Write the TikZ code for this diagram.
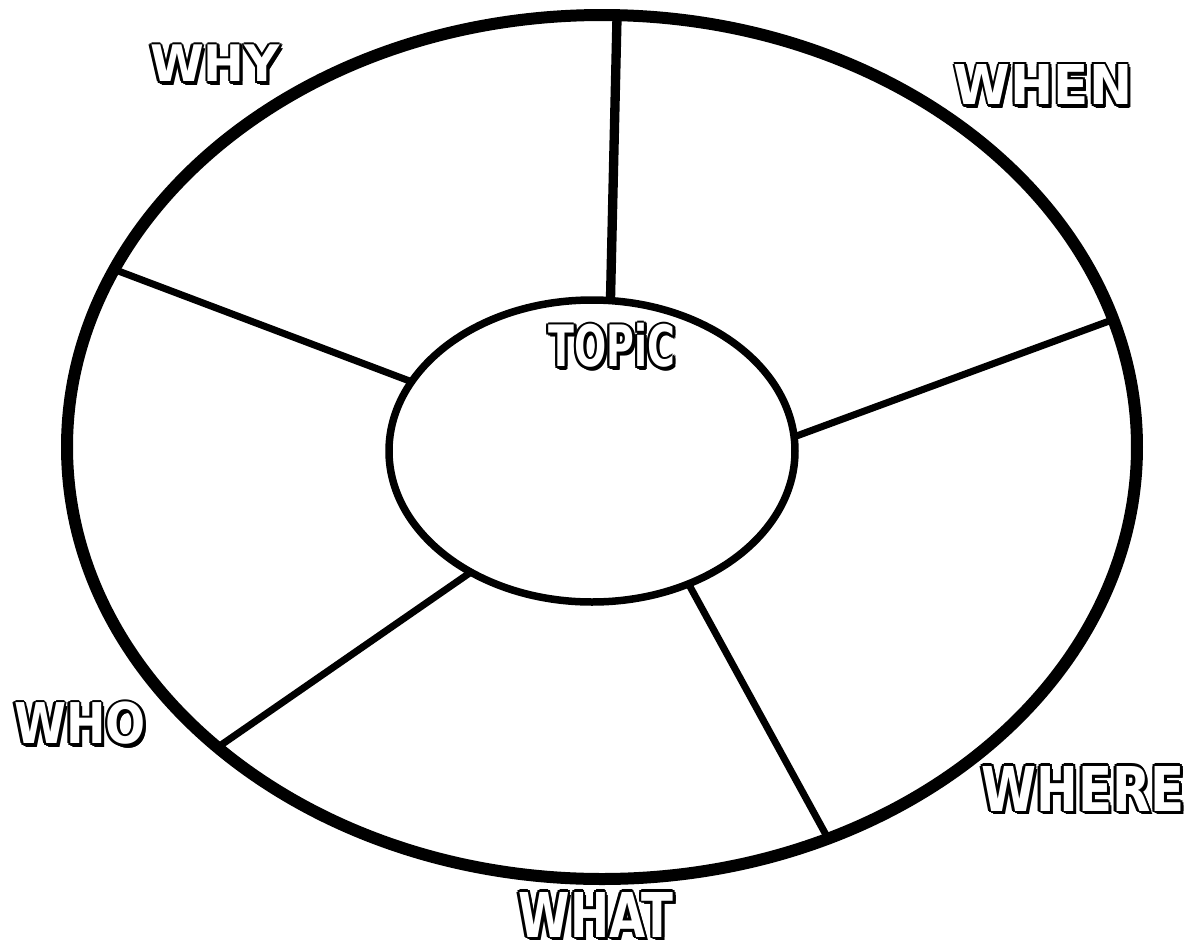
\documentclass[tikz,border=0pt]{standalone}
\usepackage{fontspec}
\setmainfont{DejaVu Sans}
\usepackage{graphicx}
\usetikzlibrary{shapes.geometric}
\newlength\olw \setlength\olw{1.5pt}
\newlength\olx \setlength\olx{1.06pt}
\newcommand\olcopy[3]{\makebox[0pt][l]{\kern#1\raisebox{#2}{\textcolor{black}{#3}}}}
\newcommand\outl[1]{\leavevmode
  \olcopy{\olw}{0pt}{#1}\olcopy{-\olw}{0pt}{#1}%
  \olcopy{0pt}{\olw}{#1}\olcopy{0pt}{-\olw}{#1}%
  \olcopy{\olx}{\olx}{#1}\olcopy{-\olx}{\olx}{#1}%
  \olcopy{\olx}{-\olx}{#1}\olcopy{-\olx}{-\olx}{#1}%
  \olcopy{1.9pt}{-1.9pt}{#1}\olcopy{1.4pt}{-2.1pt}{#1}%
  \textcolor{white}{#1}}
\newcommand\lbltext[3]{\outl{\resizebox{#1}{#2}{\bfseries #3}}}
\begin{document}
\begin{tikzpicture}[x=0.6pt,y=-0.6pt,
  ring/.style={draw=black,ellipse,inner sep=0pt,outer sep=0pt},
  spoke/.style={draw=black,line width=4.2pt},
  lbl/.style={inner sep=0pt,outer sep=0pt}]
\useasboundingbox (0,0) rectangle (1201,950);
\node[ring,line width=7.2pt,minimum width=642pt,minimum height=518.4pt] (outer) at (602,447) {};
\node[ring,line width=4.5pt,minimum width=243.6pt,minimum height=181.2pt] (inner) at (592,451) {};
\draw[spoke,line width=5.6pt] (outer.88.7) -- (inner.83.3);
\draw[spoke] (outer.14.6) -- (inner.4.5);
\draw[spoke] (outer.-60.4) -- (inner.-54.4);
\draw[spoke] (outer.-142.7) -- (inner.225.9);
\draw[spoke] (outer.160.9) -- (inner.159.7);
\node[lbl] (why) at (215,64) {\lbltext{78pt}{22pt}{WHY}};
\node[lbl] (when) at (1043,85) {\lbltext{107pt}{24pt}{WHEN}};
\node[lbl] (topic) at (612,346) {\lbltext{76pt}{26pt}{TOPiC}};
\node[lbl] (who) at (80,724) {\lbltext{79pt}{25pt}{WHO}};
\node[lbl] (where) at (1083,789) {\lbltext{122pt}{27pt}{WHERE}};
\node[lbl] (what) at (596,915) {\lbltext{93pt}{27pt}{WHAT}};
\end{tikzpicture}
\end{document}
